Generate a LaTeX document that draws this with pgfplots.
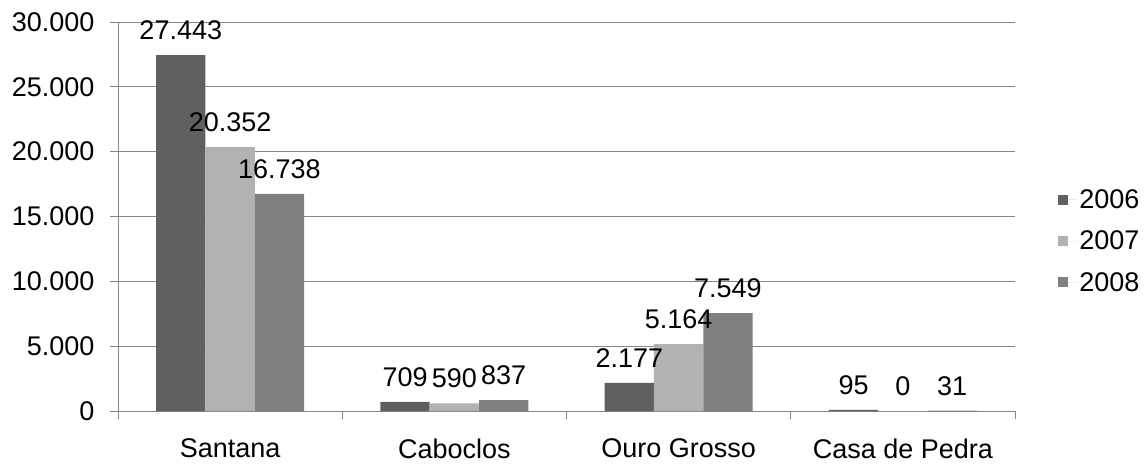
\documentclass[border=0pt]{standalone}
\usepackage{pgfplots}
\pgfplotsset{compat=1.18}
\usepackage{fontspec}
\setmainfont{Liberation Sans}
\definecolor{c6}{RGB}{96,96,96}
\definecolor{c7}{RGB}{178,178,178}
\definecolor{c8}{RGB}{128,128,128}
\definecolor{gridc}{RGB}{134,134,134}
\newcommand{\chartfont}{\fontsize{27bp}{32bp}\selectfont}
\begin{document}
\begin{tikzpicture}
\path[use as bounding box] (-118bp,-53bp) rectangle (1029bp,411bp);
\begin{axis}[
  at={(0,0)}, anchor=south west,
  scale only axis, width=897bp, height=389bp,
  xmin=-0.5, xmax=3.5, ymin=0, ymax=30000,
  ybar=0pt, bar width=0.22,
  axis x line*=bottom, axis y line*=left,
  axis line style={gridc, line width=0.8bp},
  xtick={-0.5,0.5,1.5,2.5,3.5}, xticklabels={},
  x tick style={gridc, line width=0.8bp},
  extra x ticks={0,1,2,3},
  extra x tick labels={Santana,Caboclos,Ouro Grosso,Casa de Pedra},
  extra x tick style={major tick length=0pt, xticklabel style={yshift=-24bp}},
  ytick={0,5000,10000,15000,20000,25000,30000},
  y tick style={gridc, line width=0.8bp},
  yticklabel style={xshift=-12bp},
  tick align=outside, major tick length=8bp,
  ymajorgrids, major grid style={gridc, line width=0.8bp},
  scaled y ticks=false,
  tick label style={font=\chartfont, black},
  /pgf/number format/.cd, 1000 sep={.}, assume math mode=true, /pgfplots/.cd,
  nodes near coords,
  every node near coord/.append style={anchor=south, inner sep=0pt, yshift=15bp, font=\chartfont, black},
  legend style={at={(1.048,0.437)}, anchor=west, draw=none, fill=none, font=\chartfont,
    row sep=17bp, inner sep=0pt, nodes={inner sep=2bp}},
  legend cell align=left,
  legend image code/.code={\fill[#1] (0bp,-5bp) rectangle (10bp,5bp); \path (0bp,0bp) -- (19bp,0bp);},
]
\addplot[fill=c6, draw=none] coordinates {(0,27443) (1,709) (2,2177) (3,95)};
\addplot[fill=c7, draw=none] coordinates {(0,20352) (1,590) (2,5164) (3,0)};
\addplot[fill=c8, draw=none] coordinates {(0,16738) (1,837) (2,7549) (3,31)};
\legend{2006,2007,2008}
\end{axis}
\end{tikzpicture}
\end{document}
